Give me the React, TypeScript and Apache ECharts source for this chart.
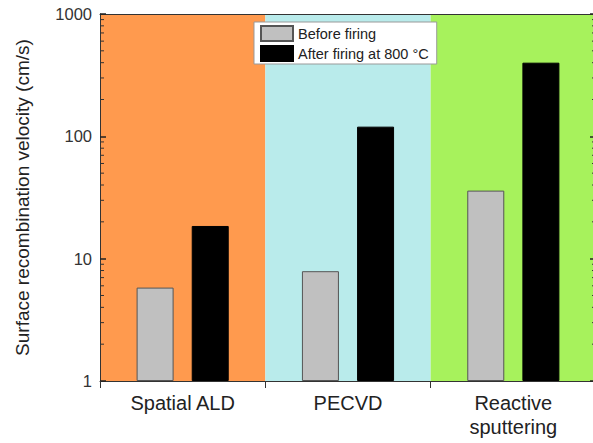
import React, { useEffect, useRef } from "react";
import * as echarts from "echarts";

const categories = ["Spatial ALD", "PECVD", "Reactive\nsputtering"];
const beforeFiring = [5.8, 7.9, 36];
const afterFiring = [18.5, 120, 400];
const seriesNames = ["Before firing", "After firing at 800 °C"];
const bandColors = ["#FF9A4E", "#B9EBEB", "#A7F25C"];
const minorTickValues = [
  2, 3, 4, 5, 6, 7, 8, 9,
  20, 30, 40, 50, 60, 70, 80, 90,
  200, 300, 400, 500, 600, 700, 800, 900,
];

export default function App() {
  const ref = useRef<HTMLDivElement>(null);
  useEffect(() => {
    const chart = echarts.init(ref.current!, null, { renderer: "svg" });
    const font = "'Liberation Sans', Arial, sans-serif";
    chart.setOption({
      animation: false,
      textStyle: { fontFamily: font },
      grid: { left: 100, right: 1, top: 14, bottom: 62, containLabel: false },
      legend: {
        data: seriesNames,
        orient: "vertical",
        left: 254,
        top: 22,
        backgroundColor: "#fff",
        borderColor: "#999",
        borderWidth: 1,
        padding: [3, 8, 2, 6],
        itemGap: 3,
        itemWidth: 32,
        itemHeight: 15,
        icon: "rect",
        textStyle: { fontSize: 14.5, color: "#222", fontFamily: font },
      },
      xAxis: [
        {
          type: "category",
          data: categories,
          position: "bottom",
          axisLine: { show: true, lineStyle: { color: "#333", width: 1 } },
          axisTick: { show: true, inside: false, length: 7, lineStyle: { color: "#333" } },
          axisLabel: { fontSize: 20, color: "#222", margin: 10, lineHeight: 24, fontFamily: font },
          splitArea: { show: true, areaStyle: { color: bandColors, opacity: 1 } },
          splitLine: { show: false },
        },
        {
          type: "category",
          data: categories,
          position: "top",
          axisLine: { show: true, lineStyle: { color: "#333", width: 1 } },
          axisTick: { show: false },
          axisLabel: { show: false },
          splitLine: { show: false },
        },
      ],
      yAxis: [
        {
          type: "log",
          logBase: 10,
          min: 1,
          max: 1000,
          position: "left",
          name: "Surface recombination velocity (cm/s)",
          nameLocation: "middle",
          nameGap: 68,
          nameTextStyle: { fontSize: 19, color: "#222", fontFamily: font },
          axisLine: { show: true, lineStyle: { color: "#333", width: 1 } },
          axisTick: { show: true, inside: true, length: 6, lineStyle: { color: "#222", width: 1.5 } },
          axisLabel: {
            fontSize: 16.5,
            color: "#333",
            margin: 8,
            fontFamily: font,
            formatter: (v: number) => String(Math.round(v)),
          },
          splitLine: { show: false },
        },
        {
          type: "log",
          logBase: 10,
          min: 1,
          max: 1000,
          position: "right",
          axisLine: { show: true, lineStyle: { color: "#333", width: 1 } },
          axisTick: { show: true, inside: true, length: 6, lineStyle: { color: "#222", width: 1.5 } },
          axisLabel: { show: false },
          splitLine: { show: false },
        },
      ],
      series: [
        {
          name: seriesNames[0],
          type: "bar",
          data: beforeFiring,
          barWidth: 37,
          barGap: "49%",
          itemStyle: { color: "#C0C0C0", borderColor: "#555", borderWidth: 1 },
        },
        {
          name: seriesNames[1],
          type: "bar",
          data: afterFiring,
          barWidth: 37,
          barGap: "49%",
          itemStyle: { color: "#000", borderColor: "#000", borderWidth: 1 },
        },
        {
          name: "minorTicks",
          type: "custom",
          silent: true,
          z: 10,
          data: minorTickValues.map((v) => [0, v]),
          encode: { x: 0, y: 1 },
          renderItem: (params: any, api: any) => {
            const v = api.value(1);
            const y = api.coord([0, v])[1];
            const cs = params.coordSys;
            return {
              type: "group",
              children: [
                {
                  type: "line",
                  shape: { x1: cs.x, y1: y, x2: cs.x + 4, y2: y },
                  style: { stroke: "#333", lineWidth: 1 },
                },
                {
                  type: "line",
                  shape: { x1: cs.x + cs.width - 4, y1: y, x2: cs.x + cs.width, y2: y },
                  style: { stroke: "#333", lineWidth: 1 },
                },
              ],
            };
          },
        },
      ],
    });
    return () => chart.dispose();
  }, []);
  return (
    <div
      ref={ref}
      style={{ position: "fixed", left: 0, top: 0, width: 597, height: 443, background: "#fff" }}
    />
  );
}
